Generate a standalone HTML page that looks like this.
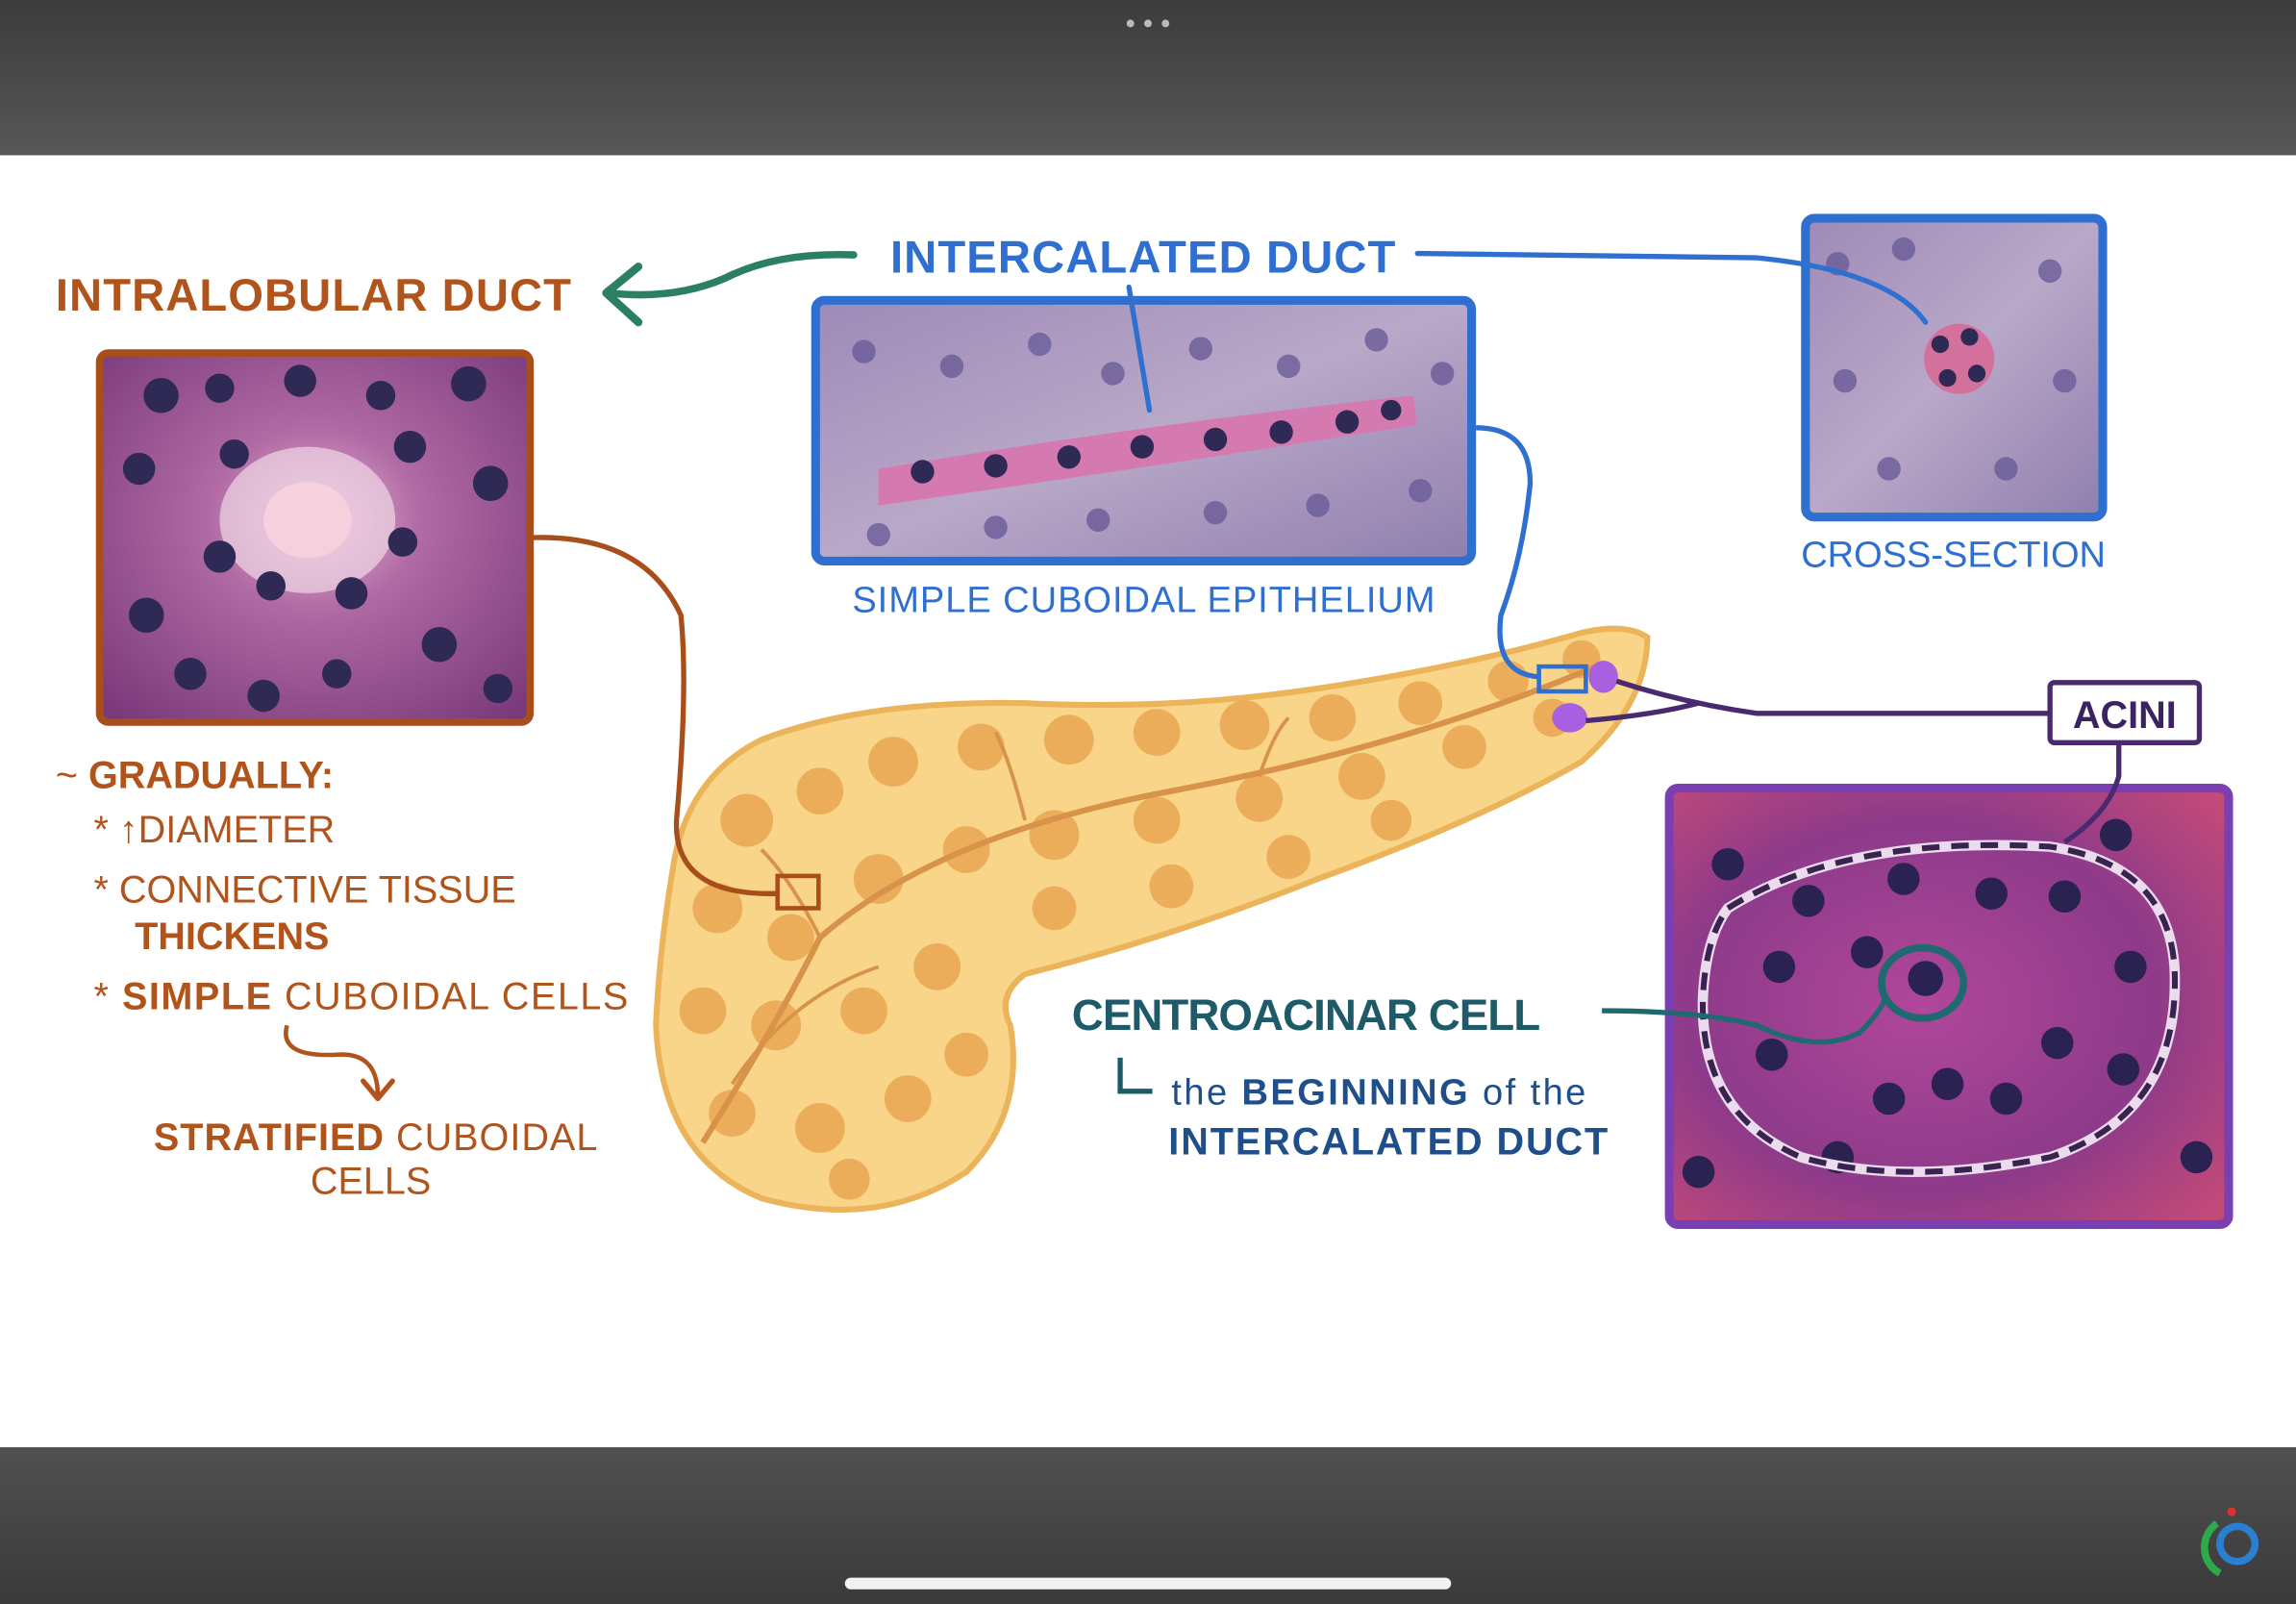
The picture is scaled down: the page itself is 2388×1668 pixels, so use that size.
<!DOCTYPE html>
<html><head><meta charset="utf-8"><style>
html,body{margin:0;padding:0;width:2388px;height:1668px;overflow:hidden;background:#fff}
svg{display:block}
text{font-family:"Liberation Sans",sans-serif}
</style></head><body>
<svg width="2388" height="1668" viewBox="0 0 1568 1095" preserveAspectRatio="none" xmlns="http://www.w3.org/2000/svg">
<defs>
<linearGradient id="top" x1="0" y1="0" x2="0" y2="1"><stop offset="0" stop-color="#3c3c3c"/><stop offset="1" stop-color="#575757"/></linearGradient>
<linearGradient id="bot" x1="0" y1="0" x2="0" y2="1"><stop offset="0" stop-color="#505050"/><stop offset="1" stop-color="#3a3a3a"/></linearGradient>
<radialGradient id="hL" cx="0.5" cy="0.45" r="0.7"><stop offset="0" stop-color="#e6b8d6"/><stop offset="0.35" stop-color="#b06aa4"/><stop offset="1" stop-color="#7a3a7a"/></radialGradient>
<linearGradient id="hM" x1="0" y1="0" x2="1" y2="1"><stop offset="0" stop-color="#9d8ab8"/><stop offset="0.5" stop-color="#b9a8c8"/><stop offset="1" stop-color="#8f7fae"/></linearGradient>
<radialGradient id="hA" cx="0.45" cy="0.5" r="0.7"><stop offset="0" stop-color="#b0479a"/><stop offset="0.6" stop-color="#8e3a8a"/><stop offset="1" stop-color="#c24a78"/></radialGradient>
</defs>
<rect x="0" y="0" width="1568" height="106" fill="url(#top)"/>
<circle cx="772" cy="16" r="2.6" fill="#bbb"/><circle cx="784" cy="16" r="2.6" fill="#bbb"/><circle cx="796" cy="16" r="2.6" fill="#bbb"/>
<rect x="0" y="988" width="1568" height="107" fill="url(#bot)"/>
<rect x="577" y="1077" width="414" height="8" rx="4" fill="#f2f2f2"/>
<circle cx="1528" cy="1054" r="12" fill="none" stroke="#2a7fd0" stroke-width="5"/>
<path d="M1514,1040 A20,20 0 0 0 1516,1074" fill="none" stroke="#2eaa4a" stroke-width="5"/>
<circle cx="1524" cy="1032" r="3" fill="#e03030"/>

<rect x="68" y="241" width="294" height="252" rx="6" fill="url(#hL)" stroke="#a84e1a" stroke-width="5"/>
<ellipse cx="210" cy="355" rx="60" ry="50" fill="#f0d7e6" opacity="0.7"/>
<ellipse cx="210" cy="355" rx="30" ry="26" fill="#f6d0dc"/>
<g fill="#2e2a55">
<circle cx="110" cy="270" r="12"/><circle cx="150" cy="265" r="10"/><circle cx="205" cy="260" r="11"/><circle cx="260" cy="270" r="10"/><circle cx="320" cy="262" r="12"/>
<circle cx="95" cy="320" r="11"/><circle cx="160" cy="310" r="10"/><circle cx="280" cy="305" r="11"/><circle cx="335" cy="330" r="12"/>
<circle cx="150" cy="380" r="11"/><circle cx="185" cy="400" r="10"/><circle cx="240" cy="405" r="11"/><circle cx="275" cy="370" r="10"/>
<circle cx="100" cy="420" r="12"/><circle cx="130" cy="460" r="11"/><circle cx="230" cy="460" r="10"/><circle cx="300" cy="440" r="12"/><circle cx="340" cy="470" r="10"/><circle cx="180" cy="475" r="11"/>
</g>
<rect x="557" y="205" width="448" height="178" rx="6" fill="url(#hM)" stroke="#2f6fd0" stroke-width="6"/>
<path d="M600,320 Q780,290 965,270 L968,290 Q780,320 600,345 Z" fill="#d47ab0"/>
<g fill="#2e2a55">
<circle cx="630" cy="322" r="8"/><circle cx="680" cy="318" r="8"/><circle cx="730" cy="312" r="8"/><circle cx="780" cy="305" r="8"/><circle cx="830" cy="300" r="8"/><circle cx="875" cy="295" r="8"/><circle cx="920" cy="288" r="8"/><circle cx="950" cy="280" r="7"/>
</g>
<g fill="#6a5c98" opacity="0.8">
<circle cx="590" cy="240" r="8"/><circle cx="650" cy="250" r="8"/><circle cx="710" cy="235" r="8"/><circle cx="760" cy="255" r="8"/><circle cx="820" cy="238" r="8"/><circle cx="880" cy="250" r="8"/><circle cx="940" cy="232" r="8"/><circle cx="985" cy="255" r="8"/>
<circle cx="600" cy="365" r="8"/><circle cx="680" cy="360" r="8"/><circle cx="750" cy="355" r="8"/><circle cx="830" cy="350" r="8"/><circle cx="900" cy="345" r="8"/><circle cx="970" cy="335" r="8"/>
</g>
<rect x="1233" y="149" width="203" height="204" rx="6" fill="url(#hM)" stroke="#2f6fd0" stroke-width="6"/>
<circle cx="1338" cy="245" r="24" fill="#d4709c"/>
<g fill="#2e2a55"><circle cx="1325" cy="235" r="6"/><circle cx="1345" cy="230" r="6"/><circle cx="1330" cy="258" r="6"/><circle cx="1350" cy="255" r="6"/></g>
<g fill="#6a5c98" opacity="0.8"><circle cx="1255" cy="180" r="8"/><circle cx="1300" cy="170" r="8"/><circle cx="1400" cy="185" r="8"/><circle cx="1260" cy="260" r="8"/><circle cx="1410" cy="260" r="8"/><circle cx="1290" cy="320" r="8"/><circle cx="1370" cy="320" r="8"/></g>
<rect x="1140" y="538" width="382" height="298" rx="6" fill="url(#hA)" stroke="#7a3fb0" stroke-width="6"/>
<g fill="#2a2250">
<circle cx="1180" cy="590" r="11"/><circle cx="1235" cy="615" r="11"/><circle cx="1300" cy="600" r="11"/><circle cx="1360" cy="610" r="11"/><circle cx="1410" cy="612" r="11"/><circle cx="1445" cy="570" r="11"/>
<circle cx="1215" cy="660" r="11"/><circle cx="1275" cy="650" r="11"/><circle cx="1455" cy="660" r="11"/><circle cx="1210" cy="720" r="11"/><circle cx="1290" cy="750" r="11"/><circle cx="1330" cy="740" r="11"/><circle cx="1370" cy="750" r="11"/><circle cx="1405" cy="712" r="11"/><circle cx="1450" cy="730" r="11"/>
<circle cx="1255" cy="790" r="11"/><circle cx="1500" cy="790" r="11"/><circle cx="1160" cy="800" r="11"/><circle cx="1315" cy="668" r="12"/>
</g>
<path d="M1180,620 Q1260,570 1400,578 Q1480,590 1485,660 Q1490,760 1400,790 Q1300,810 1230,790 Q1160,760 1163,680 Q1165,640 1180,620 Z" fill="none" stroke="#eadcec" stroke-width="7"/>
<path d="M1180,620 Q1260,570 1400,578 Q1480,590 1485,660 Q1490,760 1400,790 Q1300,810 1230,790 Q1160,760 1163,680 Q1165,640 1180,620 Z" fill="none" stroke="#3a2350" stroke-width="4" stroke-dasharray="12 8"/>
<ellipse cx="1313" cy="671" rx="28" ry="24" fill="none" stroke="#1f6a70" stroke-width="5"/>

<path d="M460,590 Q450,650 448,700 Q452,790 520,818 Q600,840 660,800 Q700,760 690,700 Q680,680 700,665 Q800,640 900,600 Q1010,560 1080,520 Q1125,480 1125,435 Q1110,425 1080,432 Q1000,455 900,470 Q800,485 700,480 Q590,478 520,505 Q470,530 460,590 Z" fill="#f8d589" stroke="#ebb45a" stroke-width="4"/>
<g fill="#eaa752" opacity="0.85">
<circle cx="510" cy="560" r="18"/><circle cx="560" cy="540" r="16"/><circle cx="610" cy="520" r="17"/><circle cx="670" cy="510" r="16"/><circle cx="730" cy="505" r="17"/><circle cx="790" cy="500" r="16"/><circle cx="850" cy="495" r="17"/><circle cx="910" cy="490" r="16"/><circle cx="970" cy="480" r="15"/><circle cx="1030" cy="465" r="14"/><circle cx="1080" cy="450" r="13"/>
<circle cx="490" cy="620" r="17"/><circle cx="540" cy="640" r="16"/><circle cx="600" cy="600" r="17"/><circle cx="660" cy="580" r="16"/><circle cx="720" cy="570" r="17"/><circle cx="790" cy="560" r="16"/><circle cx="860" cy="545" r="16"/><circle cx="930" cy="530" r="16"/><circle cx="1000" cy="510" r="15"/><circle cx="1060" cy="490" r="13"/>
<circle cx="480" cy="690" r="16"/><circle cx="530" cy="700" r="17"/><circle cx="590" cy="690" r="16"/><circle cx="640" cy="660" r="16"/><circle cx="720" cy="620" r="15"/><circle cx="800" cy="605" r="15"/><circle cx="880" cy="585" r="15"/><circle cx="950" cy="560" r="14"/>
<circle cx="500" cy="760" r="16"/><circle cx="560" cy="770" r="17"/><circle cx="620" cy="750" r="16"/><circle cx="660" cy="720" r="15"/><circle cx="580" cy="805" r="14"/>
</g>
<path d="M480,780 Q530,700 560,640 Q640,570 800,540 Q960,510 1090,455" fill="none" stroke="#d8924a" stroke-width="4"/>
<path d="M500,740 Q540,680 600,660 M560,640 Q540,600 520,580 M700,560 Q690,520 680,500 M860,530 Q870,500 880,490" fill="none" stroke="#d8924a" stroke-width="2.5"/>
<rect x="531" y="598" width="28" height="22" fill="none" stroke="#a84e1a" stroke-width="3"/>
<rect x="1051" y="455" width="32" height="17" fill="none" stroke="#2f6fd0" stroke-width="3"/>
<ellipse cx="1095" cy="462" rx="10" ry="11" fill="#a860e0"/>
<ellipse cx="1072" cy="490" rx="12" ry="10" fill="#a860e0"/>

<path d="M583,174 Q530,172 495,190 Q460,205 416,200" fill="none" stroke="#2a8060" stroke-width="5" stroke-linecap="round"/>
<path d="M436,182 L414,200 L436,220" fill="none" stroke="#2a8060" stroke-width="5.5" stroke-linecap="round" stroke-linejoin="round"/>
<path d="M968,173 L1200,176 Q1290,185 1315,220" fill="none" stroke="#2f6fd0" stroke-width="3.5" stroke-linecap="round"/>
<path d="M771,196 L785,280" fill="none" stroke="#2f6fd0" stroke-width="3.5" stroke-linecap="round"/>
<path d="M1008,292 Q1045,292 1045,330 Q1040,380 1025,420 Q1020,460 1051,462" fill="none" stroke="#2f6fd0" stroke-width="3.5"/>
<path d="M364,367 Q440,365 465,420 Q470,470 462,560 Q460,612 531,610" fill="none" stroke="#a84e1a" stroke-width="3.5"/>
<path d="M1104,465 Q1150,480 1200,487 L1399,487 M1083,492 Q1130,488 1160,480" fill="none" stroke="#4a2a6e" stroke-width="3.5"/>
<path d="M1447,508 L1447,530 Q1440,555 1410,575" fill="none" stroke="#4a2a6e" stroke-width="3.5"/>
<path d="M1094,690 Q1160,690 1200,700 Q1240,720 1270,705 Q1285,690 1288,680" fill="none" stroke="#1f6a70" stroke-width="3.5"/>
<rect x="1400" y="466" width="102" height="41" rx="3" fill="#fff" stroke="#4a2a6e" stroke-width="3.5"/>
<text x="1451" y="497" font-size="26" font-weight="bold" fill="#3a2360" text-anchor="middle">ACINI</text>

<text x="38" y="212" font-size="31" font-weight="bold" fill="#b0541c" textLength="352">INTRALOBULAR DUCT</text>
<text x="608" y="186" font-size="31" font-weight="bold" fill="#2f6fd0" textLength="345">INTERCALATED DUCT</text>
<text x="582" y="418" font-size="25" fill="#2f6fd0" textLength="398">SIMPLE CUBOIDAL EPITHELIUM</text>
<text x="1230" y="387" font-size="25" fill="#2f6fd0" textLength="208">CROSS-SECTION</text>
<text x="732" y="703" font-size="30" font-weight="bold" fill="#1f5a68" textLength="320">CENTROACINAR CELL</text>
<path d="M765,722 L765,745 L787,745" fill="none" stroke="#1f5a68" stroke-width="3.5"/>
<text x="800" y="754" font-size="25" fill="#1f4f8a" textLength="283">the <tspan font-weight="bold">BEGINNING</tspan> of the</text>
<text x="798" y="788" font-size="26" font-weight="bold" fill="#1f4f8a" textLength="300">INTERCALATED DUCT</text>
<g fill="#b0541c">
<text x="38" y="538" font-size="26"><tspan>~ </tspan><tspan font-weight="bold">GRADUALLY:</tspan></text>
<text x="64" y="575" font-size="26">* ↑DIAMETER</text>
<text x="64" y="616" font-size="26">* CONNECTIVE TISSUE</text>
<text x="92" y="648" font-size="26" font-weight="bold">THICKENS</text>
<text x="64" y="689" font-size="26" textLength="365">* <tspan font-weight="bold">SIMPLE</tspan> CUBOIDAL CELLS</text>
<text x="105" y="785" font-size="26" textLength="303"><tspan font-weight="bold">STRATIFIED</tspan> CUBOIDAL</text>
<text x="212" y="815" font-size="26">CELLS</text>
</g>
<path d="M196,700 Q190,722 230,720 Q258,718 258,748" fill="none" stroke="#b0541c" stroke-width="3"/>
<path d="M248,738 L258,750 L268,738" fill="none" stroke="#b0541c" stroke-width="3.5" stroke-linecap="round" stroke-linejoin="round"/>
</svg>
</body></html>
